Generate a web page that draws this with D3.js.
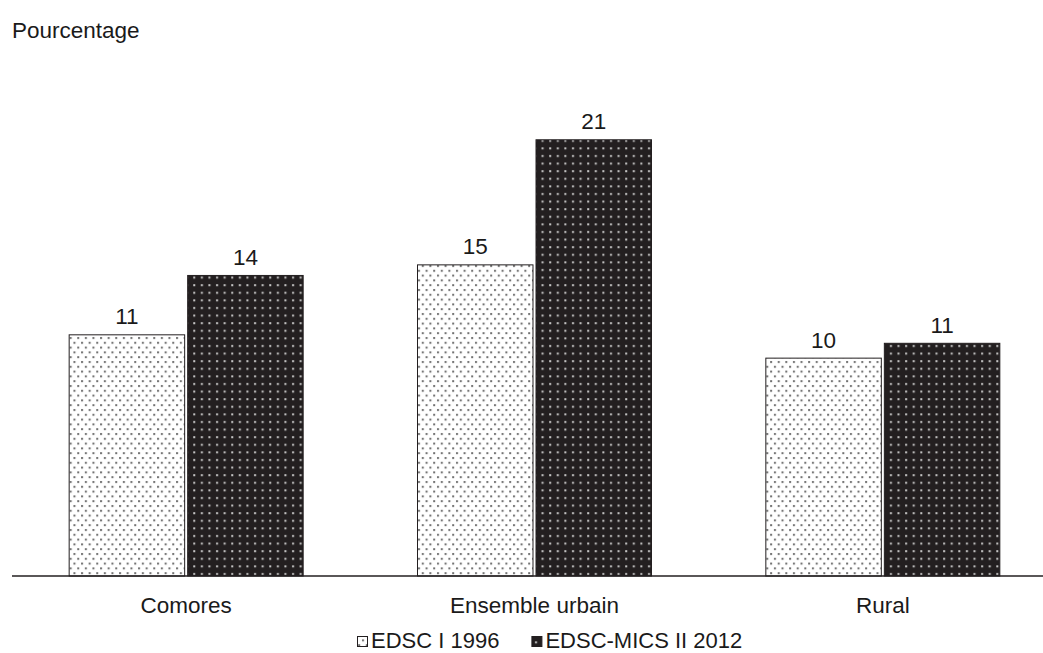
<!DOCTYPE html>
<html><head><meta charset="utf-8">
<script src="https://cdn.jsdelivr.net/npm/d3@7"></script>
<style>body{margin:0;background:#fff}svg{display:block}text{font-family:"Liberation Sans",Arial,sans-serif;fill:#1a1a1a}</style>
</head><body>
<svg id="c" width="1043" height="653"></svg>
<script>
const categories = ["Comores", "Ensemble urbain", "Rural"];
const seriesNames = ["EDSC I 1996", "EDSC-MICS II 2012"];
const values1996 = [11.4, 14.7, 10.3];
const values2012 = [14.2, 20.6, 11.0];
const yAxisTitle = "Pourcentage";

const svg = d3.select("#c");
const defs = svg.append("defs");
const p1 = defs.append("pattern").attr("id","pLight").attr("patternUnits","userSpaceOnUse").attr("width",7.6).attr("height",9.6);
p1.append("rect").attr("width",7.6).attr("height",9.6).attr("fill","#fff");
p1.append("rect").attr("x",1).attr("y",1).attr("width",2).attr("height",2).attr("fill","#707070");
p1.append("rect").attr("x",4.8).attr("y",5.8).attr("width",2).attr("height",2).attr("fill","#707070");
const p2 = defs.append("pattern").attr("id","pDark").attr("patternUnits","userSpaceOnUse").attr("width",7.6).attr("height",7.6);
p2.append("rect").attr("width",7.6).attr("height",7.6).attr("fill","#231f20");
p2.append("rect").attr("x",3).attr("y",3).attr("width",2).attr("height",2).attr("fill","#c8c8c8");

const FS = 22.5;
const left = 12, right = 1057, baseline = 576;
const x0 = d3.scaleBand().domain(categories).range([left, right]).paddingInner(0).paddingOuter(0);
const x1 = d3.scaleBand().domain(seriesNames).range([0, 235]).paddingInner(0.017);
const y = d3.scaleLinear().domain([0, 25]).range([baseline, baseline - 25*21.2]);
const fills = ["url(#pLight)", "url(#pDark)"];
const fmt = d3.format(".0f");

const data = categories.map((c,i)=>({cat:c, vals:[values1996[i], values2012[i]]}));
const g = svg.append("g");
const groups = g.selectAll("g.grp").data(data).enter().append("g")
  .attr("transform", d => `translate(${x0(d.cat) + x0.bandwidth()/2 - 117.5},0)`);
groups.selectAll("rect").data(d => d.vals.map((v,j)=>({v, s:seriesNames[j], j})))
  .enter().append("rect")
  .attr("x", d => x1(d.s)+0.5).attr("y", d => y(d.v)+0.5)
  .attr("width", x1.bandwidth()-1).attr("height", d => baseline - y(d.v) - 0.5)
  .attr("fill", d => fills[d.j]).attr("stroke","#231f20").attr("stroke-width",1);
groups.selectAll("text.val").data(d => d.vals.map((v,j)=>({v, s:seriesNames[j]})))
  .enter().append("text")
  .attr("x", d => x1(d.s) + x1.bandwidth()/2).attr("y", d => y(d.v) - 10)
  .attr("text-anchor","middle").attr("font-size", FS).text(d => fmt(d.v));

const xAxis = d3.axisBottom(x0).tickSize(0).tickPadding(21);
const ax = svg.append("g").attr("transform", `translate(0,${baseline})`).call(xAxis);
ax.select(".domain").attr("stroke","#231f20").attr("stroke-width",1.5).attr("d", `M${left},0H1043`);
ax.selectAll("text").attr("font-size",FS).attr("font-family","'Liberation Sans',Arial,sans-serif").attr("fill","#1a1a1a");

svg.append("text").attr("x",12).attr("y",38).attr("font-size",FS).text(yAxisTitle);

// legend
const lg = svg.append("g");
let lx = 357;
seriesNames.forEach((s,i)=>{
  lg.append("rect").attr("x",lx+0.5).attr("y",636.5).attr("width",10).attr("height",10)
    .attr("fill",fills[i]).attr("stroke","#231f20").attr("stroke-width",1);
  const t = lg.append("text").attr("x",lx+14).attr("y",648).attr("font-size",22).text(s);
  lx += 14 + t.node().getComputedTextLength() + 32;
});
</script>
</body></html>
